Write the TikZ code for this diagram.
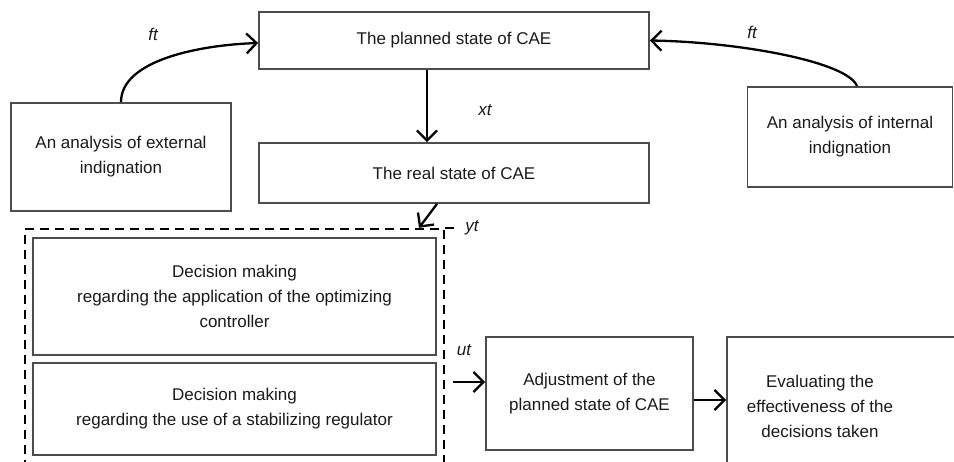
\documentclass[tikz,border=0pt]{standalone}
\usepackage{fontspec}
\setmainfont{Liberation Sans}
\usetikzlibrary{arrows.meta}
\begin{document}
\begin{tikzpicture}[x=1pt,y=-1pt,
  box/.style={draw=black!70,line width=1.8pt,align=center,inner sep=0pt,
    font=\fontsize{17}{25}\selectfont,text=black!90},
  arr/.style={draw=black,line width=2.3pt,-{Straight Barb[length=10pt,width=20pt,line width=2.3pt]}},
  lbl/.style={font=\fontsize{17}{19}\selectfont\itshape,inner sep=0pt,text=black!90},
  dashbox/.style={draw=black,line width=2.4pt,dash pattern=on 9pt off 6pt}]
\useasboundingbox (0,0) rectangle (954,461);
\clip (0,0) rectangle (954,461);
\node[box,minimum width=390pt,minimum height=57pt] (planned) at (454,40.5) {The planned state of CAE};
\node[box,minimum width=390pt,minimum height=60pt] (real) at (454,173) {The real state of CAE};
\node[box,minimum width=220pt,minimum height=108pt] (ext) at (121,157) {An analysis of external\\indignation};
\node[box,minimum width=205pt,minimum height=100pt] (int) at (850,137) {An analysis of internal\\indignation};
\node[box,minimum width=403pt,minimum height=117pt] (dec1) at (234.5,296.5) {Decision making\\regarding the application of the optimizing\\controller};
\node[box,minimum width=403pt,minimum height=92pt] (dec2) at (234.5,409) {Decision making\\regarding the use of a stabilizing regulator};
\node[box,minimum width=207pt,minimum height=113pt] (adj) at (589.5,393.5) {Adjustment of the\\planned state of CAE};
\node[box,minimum width=253pt,minimum height=153pt] (eval) at (853.5,413.5) {};
\node[align=center,font=\fontsize{17}{25}\selectfont,text=black!90] (evaltext) at (820,406) {Evaluating the\\effectiveness of the\\decisions taken};
\node[dashbox,minimum width=419pt,minimum height=251pt,inner sep=0pt] (dashed) at (234.5,354.5) {};
\draw[dashbox] (dashed.north east) -- ++(13,0);
% labels
\node[lbl] (ft1) at (153,34) {ft};
\node[lbl] (ft2) at (752,32) {ft};
\node[lbl] (xt) at (485,110) {xt};
\node[lbl] (yt) at (472,228) {yt};
\node[lbl] (ut) at (464,350) {ut};
% connectors
\draw[arr] (ext.north) .. controls (121,60) and (200,45) .. ([yshift=-2.5pt]planned.west);
\draw[arr] ([xshift=7pt]int.north) .. controls (848,62) and (740,42) .. (planned.east);
\draw[arr] ([xshift=-27pt]planned.south) -- ([xshift=-27pt]real.north);
\draw[arr] ([xshift=-17pt]real.south) -- ([xshift=184.5pt]dashed.north);
\coordinate (utstart) at (453,382);
\draw[arr] (utstart) -- (utstart -| adj.west);
\draw[arr] ([yshift=-6.5pt]adj.east) -- ([yshift=-6.5pt]adj.east -| eval.west);
\end{tikzpicture}
\end{document}
